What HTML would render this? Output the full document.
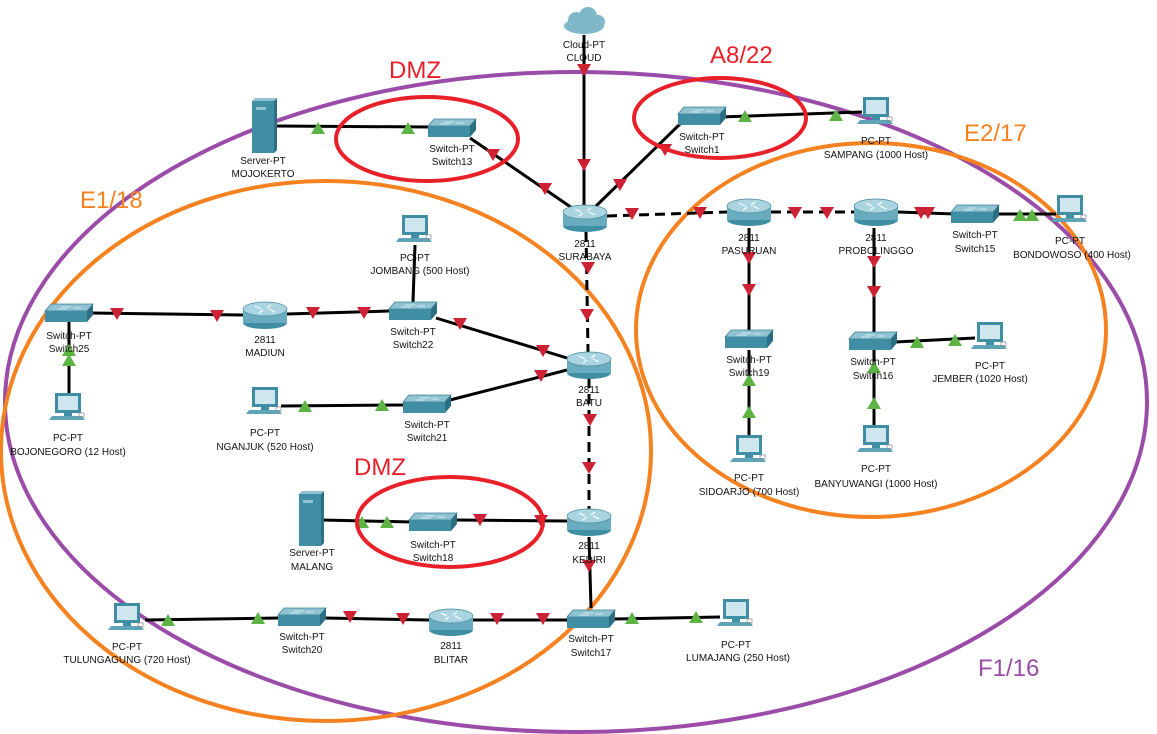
<!DOCTYPE html>
<html><head><meta charset="utf-8"><style>
html,body{margin:0;padding:0;background:#fff;}
svg{display:block;}
text{font-family:"Liberation Sans",Arial,sans-serif;font-size:10px;fill:#111;text-anchor:middle;}
.big{font-size:24px;text-anchor:start;}
</style></head><body>
<svg width="1157" height="734" viewBox="0 0 1157 734" xmlns="http://www.w3.org/2000/svg">
<defs>
<g id="sw">
<polygon points="-18,-9 24,-9 18,-2 -24,-2" fill="#8fc3d2" stroke="#3d7f92" stroke-width="0.8"/>
<polygon points="-24,-2 18,-2 18,9 -24,9" fill="#3f8ea3"/>
<polygon points="18,-2 24,-9 24,2 18,9" fill="#2c6f82"/>
<path d="M-8,-6 h10 M4,-5 h8 M-12,-4 h10" stroke="#e8f4f8" stroke-width="0.8"/>
</g>
<g id="rt">
<rect x="-22" y="-6" width="44" height="14" fill="#5fa3b6"/>
<ellipse cx="0" cy="8" rx="22" ry="6" fill="#3f8ea3"/>
<rect x="-22" y="-6" width="44" height="14" fill="#6aacbf"/>
<ellipse cx="0" cy="-6" rx="22" ry="7" fill="#a9d4e0" stroke="#4a8a9c" stroke-width="0.7"/>
<path d="M-10,-9 l6,3 M10,-3 l-6,-3 M-6,-2 l4,-3 M6,-10 l-4,3" stroke="#fff" stroke-width="1.2"/>
</g>
<g id="pc">
<rect x="-13" y="-15" width="26" height="20" fill="#3f8ea3"/>
<rect x="-10" y="-12" width="20" height="14" fill="#cfe6ee"/>
<rect x="-4" y="5" width="8" height="3" fill="#3f8ea3"/>
<polygon points="-16,8 14,8 17,12 -19,12" fill="#5fa3b6"/>
<rect x="11" y="5" width="5" height="4" fill="none" stroke="#888" stroke-width="0.7"/>
</g>
<g id="sv">
<rect x="-11" y="-26" width="22" height="52" fill="#3f8ea3"/>
<polygon points="11,-26 14,-29 14,23 11,26" fill="#2c6f82"/>
<polygon points="-11,-26 -8,-29 14,-29 11,-26" fill="#8fc3d2"/>
<rect x="-7" y="-20" width="10" height="3" fill="#8fc3d2"/>
</g>
<polygon id="rd" points="-7,-6 7,-6 0,6" fill="#cc2233"/>
<polygon id="gu" points="-7,6 7,6 0,-6" fill="#5db343"/>
</defs>

<!-- ellipses -->
<ellipse cx="576" cy="402" rx="571" ry="330" fill="none" stroke="#9b4ca8" stroke-width="4"/>
<ellipse cx="326" cy="451" rx="325" ry="270" fill="none" stroke="#f58220" stroke-width="4"/>
<ellipse cx="871" cy="330" rx="235" ry="187" fill="none" stroke="#f58220" stroke-width="4"/>

<!-- links -->
<g stroke="#000" stroke-width="3" fill="none">
<line x1="275" y1="126" x2="430" y2="127"/>
<line x1="470" y1="138" x2="578" y2="212"/>
<line x1="584" y1="35" x2="584" y2="205"/>
<line x1="680" y1="124" x2="594" y2="208"/>
<line x1="720" y1="117" x2="862" y2="112"/>
<line x1="985" y1="214" x2="1056" y2="214"/>
<line x1="898" y1="212" x2="955" y2="214"/>
<line x1="749" y1="228" x2="749" y2="330"/>
<line x1="874" y1="228" x2="874" y2="332"/>
<line x1="895" y1="342" x2="975" y2="338"/>
<line x1="874" y1="350" x2="874" y2="428"/>
<line x1="749" y1="350" x2="749" y2="438"/>
<line x1="92" y1="313" x2="243" y2="315"/>
<line x1="287" y1="314" x2="390" y2="311"/>
<line x1="436" y1="318" x2="567" y2="358"/>
<line x1="450" y1="400" x2="567" y2="370"/>
<line x1="281" y1="406" x2="404" y2="405"/>
<line x1="69" y1="320" x2="69" y2="396"/>
<line x1="415" y1="245" x2="413" y2="302"/>
<line x1="322" y1="520" x2="412" y2="522"/>
<line x1="456" y1="520" x2="567" y2="521"/>
<line x1="589" y1="537" x2="591" y2="608"/>
<line x1="145" y1="620" x2="280" y2="618"/>
<line x1="325" y1="618" x2="429" y2="620"/>
<line x1="473" y1="620" x2="568" y2="620"/>
<line x1="614" y1="619" x2="720" y2="617"/>
</g>
<g stroke="#000" stroke-width="3" fill="none" stroke-dasharray="10,6">
<line x1="607" y1="216" x2="727" y2="212"/>
<line x1="771" y1="212" x2="854" y2="212"/>
<line x1="586" y1="232" x2="588" y2="352"/>
<line x1="589" y1="378" x2="589" y2="510"/>
</g>

<!-- triangles -->
<use href="#gu" x="318" y="128"/><use href="#gu" x="408" y="128"/>
<use href="#rd" x="493" y="155"/><use href="#rd" x="545" y="189"/>
<use href="#rd" x="584" y="70"/><use href="#rd" x="584" y="165"/>
<use href="#rd" x="665" y="150"/><use href="#rd" x="620" y="185"/>
<use href="#gu" x="745" y="116"/><use href="#gu" x="836" y="115"/>
<use href="#rd" x="632" y="214"/><use href="#rd" x="700" y="213"/>
<use href="#rd" x="795" y="213"/><use href="#rd" x="827" y="213"/>
<use href="#rd" x="921" y="213"/><use href="#rd" x="928" y="213"/>
<use href="#gu" x="1020" y="215"/><use href="#gu" x="1032" y="215"/>
<use href="#rd" x="749" y="258"/><use href="#rd" x="749" y="290"/>
<use href="#rd" x="874" y="262"/><use href="#rd" x="874" y="292"/>
<use href="#gu" x="917" y="342"/><use href="#gu" x="955" y="340"/>
<use href="#gu" x="874" y="367"/><use href="#gu" x="874" y="403"/>
<use href="#gu" x="749" y="380"/><use href="#gu" x="749" y="412"/>
<use href="#rd" x="588" y="268"/><use href="#rd" x="587" y="315"/>
<use href="#rd" x="117" y="314"/><use href="#rd" x="217" y="316"/>
<use href="#rd" x="313" y="313"/><use href="#rd" x="364" y="313"/>
<use href="#rd" x="460" y="324"/><use href="#rd" x="543" y="351"/>
<use href="#rd" x="541" y="376"/>
<use href="#gu" x="305" y="406"/><use href="#gu" x="382" y="405"/>
<use href="#gu" x="69" y="350"/><use href="#gu" x="69" y="360"/>
<use href="#rd" x="590" y="420"/><use href="#rd" x="589" y="468"/>
<use href="#gu" x="362" y="522"/><use href="#gu" x="387" y="522"/>
<use href="#rd" x="480" y="520"/><use href="#rd" x="541" y="521"/>
<use href="#rd" x="589" y="566"/>
<use href="#gu" x="168" y="620"/><use href="#gu" x="258" y="618"/>
<use href="#rd" x="350" y="617"/><use href="#rd" x="403" y="619"/>
<use href="#rd" x="497" y="619"/><use href="#rd" x="543" y="619"/>
<use href="#gu" x="632" y="618"/><use href="#gu" x="696" y="617"/>

<!-- red DMZ ellipses -->
<ellipse cx="427" cy="139" rx="91" ry="42" fill="none" stroke="#e8202a" stroke-width="4"/>
<ellipse cx="720" cy="118" rx="86" ry="40" fill="none" stroke="#e8202a" stroke-width="4"/>
<ellipse cx="450" cy="522" rx="93" ry="45" fill="none" stroke="#e8202a" stroke-width="4"/>

<!-- cloud -->
<g fill="#7fb8c8">
<ellipse cx="584" cy="26" rx="20" ry="8"/><circle cx="576" cy="20" r="8"/><circle cx="588" cy="16" r="9"/><circle cx="598" cy="22" r="7"/>
</g>
<text x="584" y="48">Cloud-PT</text><text x="584" y="61">CLOUD</text>

<!-- devices -->
<use href="#sv" x="263" y="127"/><text x="263" y="164">Server-PT</text><text x="263" y="177">MOJOKERTO</text>
<use href="#sw" x="452" y="128"/><text x="452" y="152">Switch-PT</text><text x="452" y="165">Switch13</text>
<use href="#sw" x="702" y="116"/><text x="702" y="140">Switch-PT</text><text x="702" y="153">Switch1</text>
<use href="#pc" x="876" y="112"/><text x="876" y="144">PC-PT</text><text x="876" y="158">SAMPANG (1000 Host)</text>
<use href="#rt" x="585" y="218"/><text x="585" y="247">2811</text><text x="585" y="260">SURABAYA</text>
<use href="#rt" x="749" y="212"/><text x="749" y="241">2811</text><text x="749" y="254">PASURUAN</text>
<use href="#rt" x="876" y="212"/><text x="876" y="241">2811</text><text x="876" y="254">PROBOLINGGO</text>
<use href="#sw" x="975" y="214"/><text x="975" y="238">Switch-PT</text><text x="975" y="252">Switch15</text>
<use href="#pc" x="1070" y="210"/><text x="1070" y="244">PC-PT</text><text x="1072" y="258">BONDOWOSO (400 Host)</text>
<use href="#pc" x="415" y="230"/><text x="415" y="261">PC-PT</text><text x="420" y="274">JOMBANG (500 Host)</text>
<use href="#sw" x="69" y="313"/><text x="69" y="339">Switch-PT</text><text x="69" y="352">Switch25</text>
<use href="#rt" x="265" y="315"/><text x="265" y="343">2811</text><text x="265" y="356">MADIUN</text>
<use href="#sw" x="413" y="311"/><text x="413" y="335">Switch-PT</text><text x="413" y="348">Switch22</text>
<use href="#rt" x="589" y="365"/><text x="589" y="393">2811</text><text x="589" y="406">BATU</text>
<use href="#pc" x="265" y="402"/><text x="265" y="436">PC-PT</text><text x="265" y="450">NGANJUK (520 Host)</text>
<use href="#sw" x="427" y="404"/><text x="427" y="428">Switch-PT</text><text x="427" y="441">Switch21</text>
<use href="#pc" x="68" y="408"/><text x="68" y="441">PC-PT</text><text x="68" y="455">BOJONEGORO (12 Host)</text>
<use href="#sw" x="749" y="339"/><text x="749" y="363">Switch-PT</text><text x="749" y="376">Switch19</text>
<use href="#sw" x="873" y="341"/><text x="873" y="365">Switch-PT</text><text x="873" y="379">Switch16</text>
<use href="#pc" x="990" y="337"/><text x="990" y="369">PC-PT</text><text x="980" y="382">JEMBER (1020 Host)</text>
<use href="#pc" x="749" y="450"/><text x="749" y="481">PC-PT</text><text x="749" y="495">SIDOARJO (700 Host)</text>
<use href="#pc" x="876" y="440"/><text x="876" y="472">PC-PT</text><text x="876" y="487">BANYUWANGI (1000 Host)</text>
<use href="#sv" x="310" y="520"/><text x="312" y="556">Server-PT</text><text x="312" y="570">MALANG</text>
<use href="#sw" x="433" y="522"/><text x="433" y="548">Switch-PT</text><text x="433" y="561">Switch18</text>
<use href="#rt" x="589" y="522"/><text x="589" y="549">2811</text><text x="589" y="563">KEDIRI</text>
<use href="#pc" x="127" y="618"/><text x="127" y="650">PC-PT</text><text x="127" y="663">TULUNGAGUNG (720 Host)</text>
<use href="#sw" x="302" y="617"/><text x="302" y="640">Switch-PT</text><text x="302" y="653">Switch20</text>
<use href="#rt" x="451" y="622"/><text x="451" y="649">2811</text><text x="451" y="663">BLITAR</text>
<use href="#sw" x="591" y="619"/><text x="591" y="642">Switch-PT</text><text x="591" y="656">Switch17</text>
<use href="#pc" x="736" y="614"/><text x="736" y="648">PC-PT</text><text x="738" y="661">LUMAJANG (250 Host)</text>

<!-- big labels -->
<text class="big" x="389" y="78" style="fill:#e8202a">DMZ</text>
<text class="big" x="710" y="63" style="fill:#e8202a">A8/22</text>
<text class="big" x="964" y="141" style="fill:#f58220">E2/17</text>
<text class="big" x="80" y="208" style="fill:#f58220">E1/18</text>
<text class="big" x="354" y="475" style="fill:#e8202a">DMZ</text>
<text class="big" x="978" y="676" style="fill:#9b4ca8">F1/16</text>
</svg>
</body></html>
